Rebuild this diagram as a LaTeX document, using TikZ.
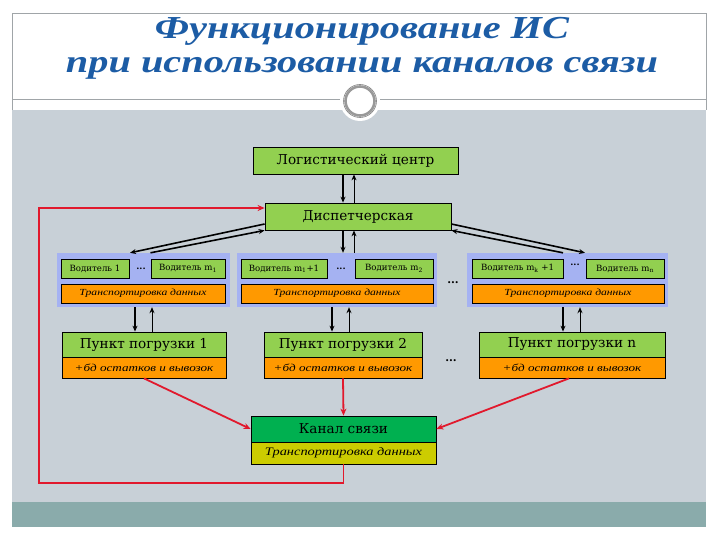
\documentclass[tikz,border=0pt]{standalone}
\usepackage{fontspec}
\setmainfont{DejaVu Serif}
\newfontfamily\titlefont{Liberation Serif}[FakeStretch=1.26]
\newfontfamily\itf{Liberation Serif}[FakeStretch=1.25]
\usetikzlibrary{arrows.meta}
\definecolor{bggray}{RGB}{200,208,215}
\definecolor{bandteal}{RGB}{138,171,171}
\definecolor{framegray}{RGB}{160,165,168}
\definecolor{titleblue}{RGB}{28,92,165}
\definecolor{lgreen}{RGB}{146,208,80}
\definecolor{lorange}{RGB}{255,153,0}
\definecolor{lav}{RGB}{165,178,242}
\definecolor{kgreen}{RGB}{0,176,80}
\definecolor{kyellow}{RGB}{204,204,0}
\definecolor{redline}{RGB}{225,25,45}
\tikzset{
  box/.style={draw=black, line width=0.8pt, inner sep=0pt, anchor=center},
  gbox/.style={box, fill=lgreen},
  obox/.style={box, fill=lorange},
  grp/.style={fill=lav, inner sep=0pt, anchor=center},
  bigtxt/.style={font=\fontsize{13.6}{15}\selectfont},
  smalltxt/.style={font=\fontsize{8.6}{10}\selectfont},
  ittxt/.style={font=\itf\itshape\fontsize{9.3}{11}\selectfont},
  dotstxt/.style={font=\bfseries\fontsize{9}{10}\selectfont, inner sep=0pt},
  arrthick/.style={line width=1.6pt, -{Stealth[length=6pt,width=5pt]}},
  arrthin/.style={line width=1pt, -{Stealth[length=6pt,width=5pt]}},
  redarr/.style={draw=redline, line width=1.8pt, -{Stealth[length=7pt,width=6pt]}},
}
\begin{document}
\begin{tikzpicture}[x=1pt,y=-1pt]
\useasboundingbox (0,0) rectangle (720,540);
\fill[white] (0,0) rectangle (720,540);
\fill[bggray] (12,110) rectangle (706,502);
\fill[bandteal] (12,502) rectangle (706,527);
\draw[framegray, line width=0.8pt] (12,110) -- (12,13) -- (706,13) -- (706,110);
\draw[framegray, line width=0.8pt] (12,99) -- (706,99);
% ornament
\fill[white] (360,101) circle (20);
\draw[gray!80, line width=2.6pt] (360,101) circle (14.5);
\draw[gray, line width=0.6pt] (360,101) circle (16.5);
% title
\node[anchor=base, text=titleblue, inner sep=0pt, font=\titlefont\bfseries\itshape\fontsize{32}{38}\selectfont] (title1) at (362,39) {Функционирование ИС};
\node[anchor=base, text=titleblue, inner sep=0pt, font=\titlefont\bfseries\itshape\fontsize{32}{38}\selectfont] (title2) at (362,73) {при использовании каналов связи};
% top nodes
\node[gbox, minimum width=205pt, minimum height=27pt, bigtxt] (lc) at (355.5,160.5) {Логистический центр};
\node[gbox, minimum width=186pt, minimum height=27pt, bigtxt] (disp) at (358,216.5) {Диспетчерская};
% groups
\node[grp, minimum width=173pt, minimum height=54pt] (g1) at (143.5,280) {};
\node[grp, minimum width=200pt, minimum height=54pt] (g2) at (337,280) {};
\node[grp, minimum width=201pt, minimum height=54pt] (g3) at (567.5,280) {};
\node[gbox, minimum width=68pt, minimum height=19pt, smalltxt] (d1) at (95,268.5) {Водитель 1};
\node[dotstxt] (dots1) at (141,269) {...};
\node[gbox, minimum width=74pt, minimum height=19pt, smalltxt] (d2) at (188,268.5) {Водитель m\textsubscript{1}};
\node[obox, minimum width=164pt, minimum height=19pt, ittxt] (t1) at (143,293.5) {Транспортировка данных};
\node[gbox, minimum width=86pt, minimum height=19pt, smalltxt] (d3) at (284,268.5) {Водитель m\textsubscript{1}+1};
\node[dotstxt] (dots2) at (341,269) {...};
\node[gbox, minimum width=78pt, minimum height=19pt, smalltxt] (d4) at (394,268.5) {Водитель m\textsubscript{2}};
\node[obox, minimum width=192pt, minimum height=19pt, ittxt] (t2) at (337,293.5) {Транспортировка данных};
\node[gbox, minimum width=91pt, minimum height=19pt, smalltxt] (d5) at (517.5,268.5) {Водитель m\textsubscript{k} +1};
\node[dotstxt] (dots3) at (575,265) {...};
\node[gbox, minimum width=78pt, minimum height=19pt, smalltxt] (d6) at (625,268.5) {Водитель m\textsubscript{n}};
\node[obox, minimum width=192pt, minimum height=19pt, ittxt] (t3) at (568,293.5) {Транспортировка данных};
\node[dotstxt, font=\bfseries\fontsize{11}{12}\selectfont] (dotsg) at (453,283) {...};
% loading points
\node[gbox, minimum width=164pt, minimum height=25pt, bigtxt] (p1) at (144,344.5) {Пункт погрузки 1};
\node[obox, minimum width=164pt, minimum height=21pt, ittxt, font=\itf\itshape\fontsize{10.5}{12}\selectfont] (p1b) at (144,367.5) {+бд остатков и вывозок};
\node[gbox, minimum width=158pt, minimum height=25pt, bigtxt] (p2) at (343,344.5) {Пункт погрузки 2};
\node[obox, minimum width=158pt, minimum height=21pt, ittxt, font=\itf\itshape\fontsize{10.5}{12}\selectfont] (p2b) at (343,367.5) {+бд остатков и вывозок};
\node[gbox, minimum width=186pt, minimum height=25pt, bigtxt] (pn) at (572,344.5) {Пункт погрузки n};
\node[obox, minimum width=186pt, minimum height=21pt, ittxt, font=\itf\itshape\fontsize{10.5}{12}\selectfont] (pnb) at (572,367.5) {+бд остатков и вывозок};
\node[dotstxt, font=\bfseries\fontsize{11}{12}\selectfont] (dotsp) at (451,361) {...};
% channel
\node[box, fill=kgreen, minimum width=185pt, minimum height=26pt, bigtxt] (k) at (343.5,429) {Канал связи};
\node[box, fill=kyellow, minimum width=185pt, minimum height=22pt, ittxt, font=\itf\itshape\fontsize{11.5}{13}\selectfont] (kb) at (343.5,453) {Транспортировка данных};
% vertical arrow positions
\coordinate (xa) at (343,0);
\coordinate (xb) at (354,0);
\coordinate (c1a) at (135,0);
\coordinate (c1b) at (152,0);
\coordinate (c2a) at (332,0);
\coordinate (c2b) at (349,0);
\coordinate (c3a) at (563,0);
\coordinate (c3b) at (580,0);
\draw[arrthick] (lc.south -| xa) -- (disp.north -| xa);
\draw[arrthin] (disp.north -| xb) -- (lc.south -| xb);
\draw[arrthick] (disp.south -| xa) -- (g2.north -| xa);
\draw[arrthin] (g2.north -| xb) -- (disp.south -| xb);
\draw[arrthick] (g1.south -| c1a) -- (p1.north -| c1a);
\draw[arrthin] (p1.north -| c1b) -- (g1.south -| c1b);
\draw[arrthick] (g2.south -| c2a) -- (p2.north -| c2a);
\draw[arrthin] (p2.north -| c2b) -- (g2.south -| c2b);
\draw[arrthick] (g3.south -| c3a) -- (pn.north -| c3a);
\draw[arrthin] (pn.north -| c3b) -- (g3.south -| c3b);
% diagonal arrows
\draw[arrthick] ([yshift=-7.5pt]disp.west) -- ([xshift=-13.5pt]g1.north);
\draw[arrthick] ([xshift=7pt]g1.north) -- (disp.south west);
\draw[arrthick] ([yshift=-7.5pt]disp.east) -- ([xshift=17.5pt]g3.north);
\draw[arrthick] ([xshift=-4.5pt]g3.north) -- (disp.south east);
% red connectors
\draw[redarr] (p1b.south) -- (k.west);
\draw[redarr] (p2b.south) -- (k.north);
\draw[redarr] ([xshift=-3pt]pnb.south) -- (k.east);
\coordinate (loopc) at (39,483);
\draw[redarr] (kb.south) |- (loopc) |- ([yshift=8.5pt]disp.west);
\end{tikzpicture}
\end{document}
